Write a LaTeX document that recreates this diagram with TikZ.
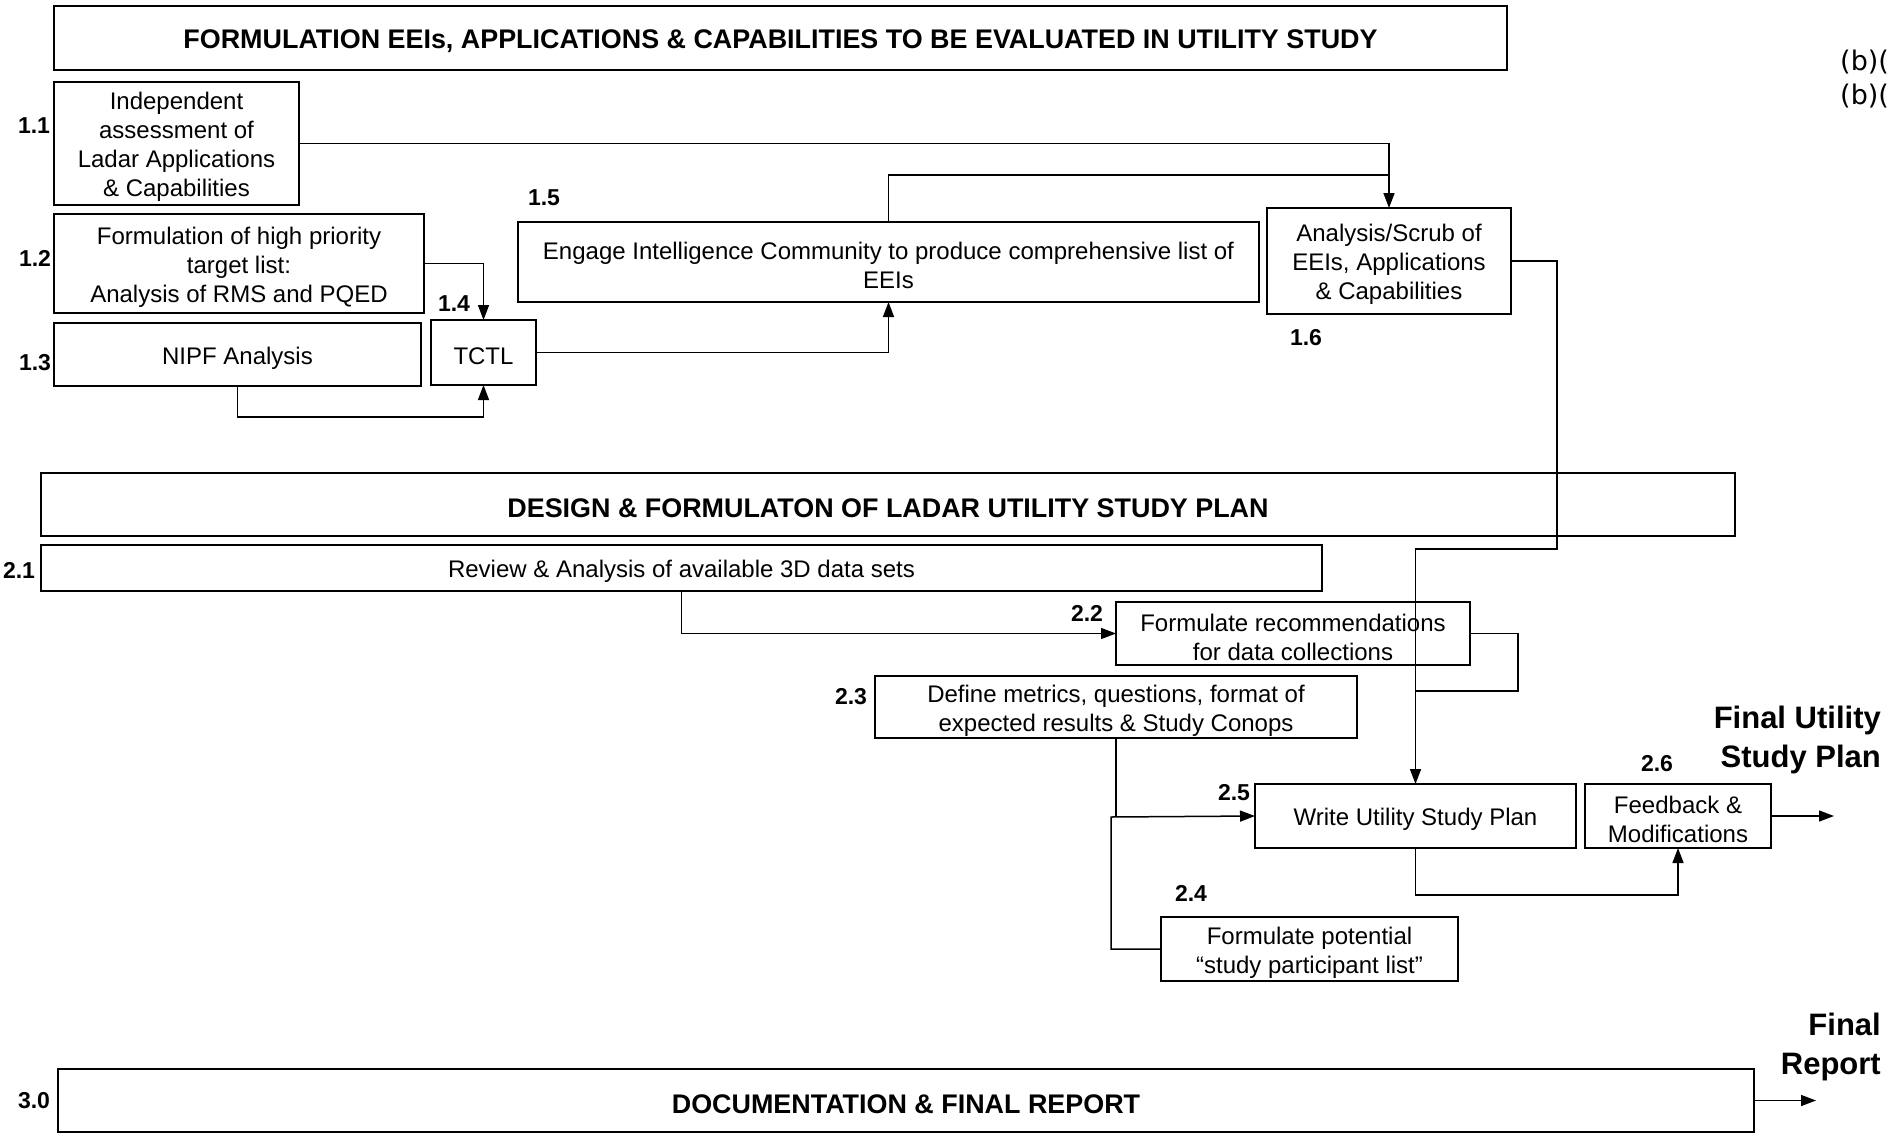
\documentclass[tikz,border=0pt]{standalone}
\usepackage{fontspec}
\setmainfont{Liberation Sans}
\newfontfamily\sidefont{DejaVu Sans}
\usetikzlibrary{arrows.meta,calc}
\begin{document}
\begin{tikzpicture}[x=1pt,y=-1pt,
  box/.style={draw, line width=2.4pt, inner sep=0pt, outer sep=0pt},
  txt/.style={inner sep=0pt, align=center, font=\fontsize{24}{29}\selectfont},
  htxt/.style={inner sep=0pt, align=center, font=\fontsize{26.9}{32}\selectfont\bfseries},
  num/.style={inner sep=0pt, font=\fontsize{23}{28}\selectfont\bfseries},
  big/.style={inner sep=0pt, align=right, font=\fontsize{31}{39}\selectfont\bfseries},
  side/.style={inner sep=0pt, anchor=west, font=\sidefont\fontsize{27}{32}\selectfont},
  conn/.style={line width=1.5pt},
  arr/.style={conn, -{Triangle[length=15pt,width=11pt]}}]
\useasboundingbox (0,0) rectangle (1892,1135);

% ---------- section 1 ----------
\node[box, minimum width=1453pt, minimum height=64pt] (H1) at (780.5,38) {};
\node[htxt] (tH1) at ([yshift=-3.5pt]H1.center)
  {FORMULATION EEIs, APPLICATIONS \& CAPABILITIES TO BE EVALUATED IN UTILITY STUDY};
\node[side] (s1) at (1840,62) {(b)(};
\node[side] (s2) at (1840,96) {(b)(};

\node[box, minimum width=245pt, minimum height=123pt] (B11) at (176.5,143.5) {};
\node[txt] (t11) at ([yshift=-3.5pt]B11.center)
  {Independent\\assessment of\\Ladar Applications\\\& Capabilities};
\node[box, minimum width=370pt, minimum height=99pt] (B12) at (239,263.5) {};
\node[txt] (t12) at ([yshift=-3.5pt]B12.center)
  {Formulation of high priority\\target list:\\Analysis of RMS and PQED};
\node[box, minimum width=367pt, minimum height=63pt] (B13) at (237.5,354.5) {};
\node[txt] (t13) at ([yshift=-3.5pt]B13.center) {NIPF Analysis};
\node[box, minimum width=105pt, minimum height=65pt] (B14) at (483.5,352.5) {};
\node[txt] (t14) at ([yshift=-3.5pt]B14.center) {TCTL};
\node[box, minimum width=741pt, minimum height=80pt] (B15) at (888.5,262) {};
\node[txt] (t15) at ([yshift=-3.5pt]B15.center)
  {Engage Intelligence Community to produce comprehensive list of\\EEIs};
\node[box, minimum width=244pt, minimum height=106pt] (B16) at (1389,261) {};
\node[txt] (t16) at ([yshift=-3.5pt]B16.center)
  {Analysis/Scrub of\\EEIs, Applications\\\& Capabilities};

\node[num] (n11) at (34,126) {1.1};
\node[num] (n12) at (35,258) {1.2};
\node[num] (n13) at (35,363) {1.3};
\node[num] (n14) at (454,304) {1.4};
\node[num] (n15) at (544,198) {1.5};
\node[num] (n16) at (1306,338) {1.6};

% ---------- section 2 ----------
\node[box, minimum width=1694pt, minimum height=63pt] (H2) at (888,504.5) {};
\node[htxt] (tH2) at ([yshift=-3.5pt]H2.center)
  {DESIGN \& FORMULATON OF LADAR UTILITY STUDY PLAN};
\node[box, minimum width=1281pt, minimum height=46pt] (B21) at (681.5,568) {};
\node[txt] (t21) at ([yshift=-3.5pt]B21.center)
  {Review \& Analysis of available 3D data sets};
\node[box, minimum width=354pt, minimum height=63pt] (B22) at (1293,633.5) {};
\node[txt] (t22) at ([yshift=-3.5pt]B22.center)
  {Formulate recommendations\\for data collections};
\node[box, minimum width=482pt, minimum height=62pt] (B23) at (1116,707) {};
\node[txt] (t23) at ([yshift=-3.5pt]B23.center)
  {Define metrics, questions, format of\\expected results \& Study Conops};
\node[box, minimum width=297pt, minimum height=64pt] (B24) at (1309.5,949) {};
\node[txt] (t24) at ([yshift=-3.5pt]B24.center)
  {Formulate potential\\“study participant list”};
\node[box, minimum width=321pt, minimum height=64pt] (B25) at (1415.5,816) {};
\node[txt] (t25) at ([yshift=-3.5pt]B25.center) {Write Utility Study Plan};
\node[box, minimum width=186pt, minimum height=64pt] (B26) at (1678,816) {};
\node[txt] (t26) at ([yshift=-3.5pt]B26.center) {Feedback \&\\Modifications};

\node[num] (n21) at (19,570) {2.1};
\node[num] (n22) at (1087,613) {2.2};
\node[num] (n23) at (851,697) {2.3};
\node[num] (n24) at (1191,893) {2.4};
\node[num] (n25) at (1234,793) {2.5};
\node[num] (n26) at (1657,764) {2.6};

\node[big, anchor=east] (F1) at (1881,739.5) {Final Utility\\Study Plan};

% ---------- section 3 ----------
\node[box, minimum width=1696pt, minimum height=63pt] (H3) at (906,1100.5) {};
\node[htxt] (tH3) at ([yshift=-3.5pt]H3.center) {DOCUMENTATION \& FINAL REPORT};
\node[num] (n30) at (34,1101) {3.0};
\node[big, anchor=east] (F2) at (1881,1047) {Final\\Report};

% ---------- connectors ----------
\coordinate (J1) at (1389,175);
\coordinate (R1) at (1557,549);
\coordinate (J2) at (1415.5,691);
\coordinate (R2) at (1518,691);
\coordinate (J3) at (1111,817);
\coordinate (E1) at (1834,816);
\coordinate (E2) at (1816,1100.5);

\draw[arr] (B12.east) -| (B14.north);
\draw[arr] (B13.south) -- ++(0,31) -| (B14.south);
\draw[arr] (B14.east) -| (B15.south);
\draw[conn] (B15.north) |- (J1);
\draw[arr] (B11.east) -| (B16.north);
\draw[arr] (B16.east) -| (R1) -| (B25.north);
\draw[arr] (B21.south) |- (B22.west);
\draw[conn] (B22.east) -| (R2) -- (J2);
\draw[conn] (B23.south) -- (B23.south |- J3);
\draw[arr] (B24.west) -| (J3) -- (B25.west);
\draw[arr] (B25.south) -- ++(0,47) -| (B26.south);
\draw[arr] (B26.east) -- (E1);
\draw[arr] (H3.east) -- (E2);
\end{tikzpicture}
\end{document}
